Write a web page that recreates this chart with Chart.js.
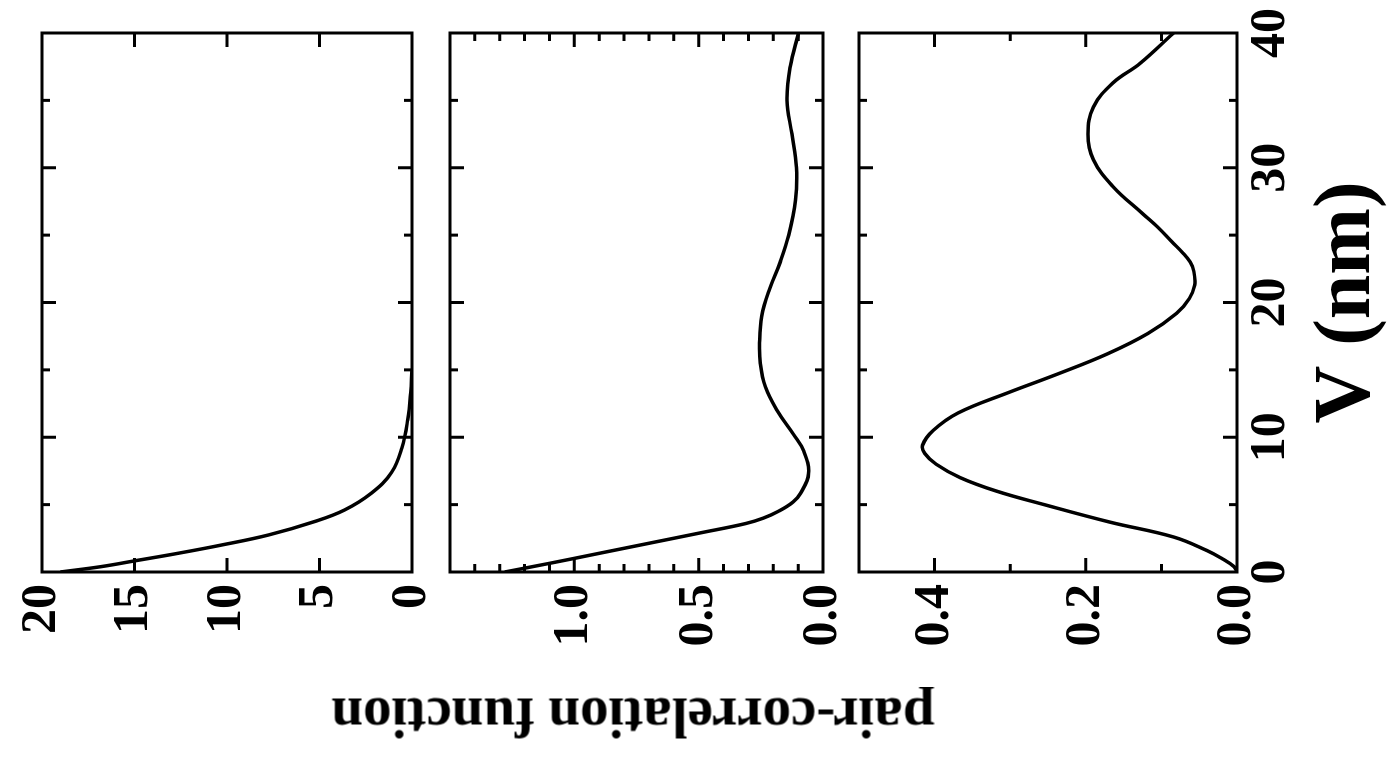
<!DOCTYPE html>
<html><head><meta charset="utf-8">
<script src="https://cdn.jsdelivr.net/npm/chart.js@4.4.1/dist/chart.umd.min.js"></script>
<style>
html,body{margin:0;padding:0;background:#fff;width:1398px;height:758px;overflow:hidden;}
#fig{position:absolute;left:0;top:0;width:758px;height:1398px;transform-origin:0 0;transform:translate(0,758px) rotate(-90deg);}
#fig canvas{position:absolute;left:0;top:0;}
#ytitle{position:absolute;left:40px;top:633px;transform:translate(-50%,-50%) rotate(-90deg);font-family:"Liberation Serif","Times New Roman",serif;font-weight:bold;font-size:57px;line-height:1;white-space:nowrap;color:#000;}
</style></head>
<body>
<div id="fig">
<canvas id="c1" width="758" height="1398"></canvas>
<canvas id="c2" width="758" height="1398"></canvas>
<canvas id="c3" width="758" height="1398"></canvas>
<div id="ytitle">pair-correlation function</div>
</div>
<script>
// V axis (nm)
const vTicks = [0, 10, 20, 30, 40];
const vMinor = [5, 15, 25, 35];
const vTitle = 'V (nm)';

// Panel 1
const p1V = [0, 0.4, 0.85, 1.35, 2.0, 2.75, 3.75, 4.6, 5.85, 7.4, 9.2, 11.3, 13.3, 15];
const p1G = [19.0, 16.8, 14.9, 12.8, 10.3, 7.75, 5.25, 3.65, 2.2, 1.1, 0.55, 0.23, 0.07, 0];
const p1Ticks = [0, 5, 10, 15, 20];
const p1Minor = [];

// Panel 2
const p2V = [0, 0.65, 1.4, 2.15, 2.9, 3.6, 4.0, 4.5, 5.2, 5.85, 7.3, 9.0, 10.2, 12.0, 13.75, 15.5, 17.0, 19.0, 21.0, 23.0, 25.0, 27.6, 30.0, 32.5, 35.0, 37.5, 40];
const p2G = [1.28, 1.098, 0.896, 0.695, 0.494, 0.31, 0.24, 0.18, 0.12, 0.09, 0.058, 0.078, 0.118, 0.185, 0.232, 0.252, 0.255, 0.246, 0.215, 0.172, 0.138, 0.111, 0.107, 0.125, 0.145, 0.132, 0.098];
const p2Ticks = [0, 0.5, 1.0];
const p2Minor = [0.1, 0.2, 0.3, 0.4, 0.6, 0.7, 0.8, 0.9, 1.1, 1.2, 1.3, 1.4];

// Panel 3
const p3V = [0, 0.4, 1.0, 1.6, 2.6, 3.7, 5.0, 6.0, 7.0, 8.0, 8.8, 9.4, 10.5, 11.8, 13.3, 14.7, 16.2, 17.7, 19.2, 20.3, 21.3, 22.3, 23.0, 23.7, 24.5, 25.6, 26.6, 28.6, 30.6, 32.5, 34.5, 36.3, 37.75, 40];
const p3G = [0, 0.004, 0.020, 0.040, 0.084, 0.168, 0.255, 0.318, 0.366, 0.398, 0.413, 0.416, 0.402, 0.369, 0.303, 0.237, 0.171, 0.118, 0.080, 0.063, 0.056, 0.057, 0.062, 0.072, 0.086, 0.105, 0.125, 0.164, 0.190, 0.197, 0.190, 0.164, 0.128, 0.084];
const p3Ticks = [0, 0.2, 0.4];
const p3Minor = [0.1, 0.3];

const FAMILY = '"Liberation Serif", "Times New Roman", serif';

const framePlugin = {
  id: 'frame',
  afterDraw(chart, args, opts) {
    const {ctx, chartArea: a, scales: {x, y}} = chart;
    ctx.save();
    ctx.strokeStyle = '#000';
    ctx.lineWidth = 3;
    ctx.lineCap = 'butt';
    ctx.beginPath();
    const tickV = (v, len) => {
      const px = x.getPixelForValue(v);
      ctx.moveTo(px, a.bottom); ctx.lineTo(px, a.bottom - len);
      ctx.moveTo(px, a.top); ctx.lineTo(px, a.top + len);
    };
    const tickG = (g, len) => {
      const py = y.getPixelForValue(g);
      ctx.moveTo(a.left, py); ctx.lineTo(a.left + len, py);
      ctx.moveTo(a.right, py); ctx.lineTo(a.right - len, py);
    };
    opts.vMaj.forEach(v => { if (v > x.min && v < x.max) tickV(v, 14); });
    opts.vMin.forEach(v => tickV(v, 8));
    opts.gMaj.forEach(g => { if (g > y.min && g < y.max) tickG(g, 14); });
    opts.gMin.forEach(g => tickG(g, 8));
    ctx.stroke();
    ctx.strokeRect(a.left, a.top, a.right - a.left, a.bottom - a.top);
    ctx.restore();
  }
};

function makeChart(id, c) {
  return new Chart(document.getElementById(id), {
    type: 'line',
    data: { datasets: [{
      data: c.V.map((v, i) => ({x: v, y: c.G[i]})),
      borderColor: '#000', borderWidth: 3.5, pointRadius: 0, fill: false,
      tension: 0.4
    }]},
    options: {
      responsive: false, maintainAspectRatio: false, animation: false, devicePixelRatio: 1,
      layout: { padding: { left: 0, right: 33, top: c.top, bottom: c.padBottom } },
      plugins: {
        legend: { display: false }, tooltip: { enabled: false },
        frame: { vMaj: vTicks, vMin: vMinor, gMaj: c.ticks, gMin: c.minor }
      },
      scales: {
        x: {
          type: 'linear', min: 0, max: 40, position: 'bottom',
          grid: { display: false, drawTicks: false }, border: { display: false },
          ticks: { display: c.showV, color: '#000', padding: 4, maxRotation: 0, minRotation: 0, autoSkip: false,
                   font: { family: FAMILY, size: 50, weight: 'bold' }, callback: v => String(v) },
          afterBuildTicks: s => { s.ticks = vTicks.map(v => ({value: v})); },
          afterFit: s => { s.height = c.xH; },
          title: { display: c.showV, text: vTitle, color: '#000', padding: 0,
                   font: { family: FAMILY, size: 80, weight: 'bold', lineHeight: 1 } }
        },
        y: {
          type: 'linear', min: 0, max: c.max, position: 'left',
          grid: { display: false, drawTicks: false }, border: { display: false },
          ticks: { color: '#000', padding: 12, autoSkip: false,
                   font: { family: FAMILY, size: 50, weight: 'bold' }, callback: c.fmt },
          afterBuildTicks: s => { s.ticks = c.ticks.map(v => ({value: v})); },
          afterFit: s => { s.width = 186; }
        }
      }
    },
    plugins: [framePlugin]
  });
}

makeChart('c1', { V: p1V, G: p1G, max: 20, ticks: p1Ticks, minor: p1Minor, top: 38, padBottom: 986, xH: 0, showV: false, fmt: v => String(v) });
makeChart('c2', { V: p2V, G: p2G, max: 1.5, ticks: p2Ticks, minor: p2Minor, top: 450, padBottom: 575, xH: 0, showV: false, fmt: v => v.toFixed(1) });
makeChart('c3', { V: p3V, G: p3G, max: 0.5, ticks: p3Ticks, minor: p3Minor, top: 859, padBottom: 10, xH: 151, showV: true, fmt: v => v.toFixed(1) });
</script>
</body></html>
